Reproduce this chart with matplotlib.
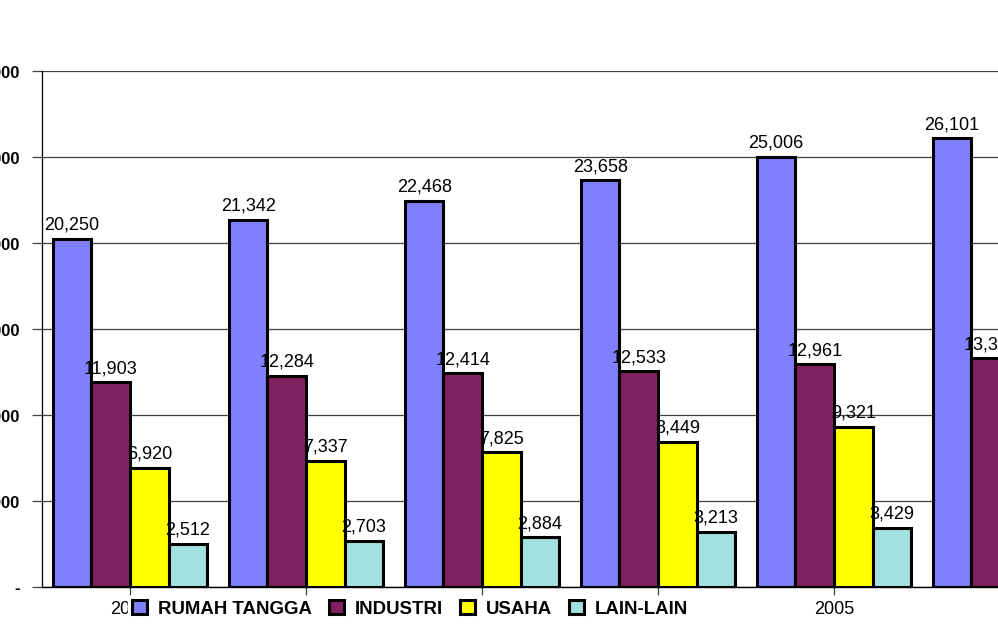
import numpy as np
import matplotlib
matplotlib.use('Agg')
import matplotlib.pyplot as plt
from matplotlib.ticker import FuncFormatter

plt.rcParams['font.family'] = ['Liberation Sans', 'DejaVu Sans']

# data (last group partly outside the visible chart)
years = ['2001', '2002', '2003', '2004', '2005', '2006']
rumah_tangga = [20250, 21342, 22468, 23658, 25006, 26101]
industri = [11903, 12284, 12414, 12533, 12961, 13300]
usaha = [6920, 7337, 7825, 8449, 9321, np.nan]
lain_lain = [2512, 2703, 2884, 3213, 3429, np.nan]

series = [
    ('RUMAH TANGGA', rumah_tangga, '#8080FF'),
    ('INDUSTRI', industri, '#80205F'),
    ('USAHA', usaha, '#FFFF00'),
    ('LAIN-LAIN', lain_lain, '#A3E0E0'),
]

fig = plt.figure(figsize=(9.98, 6.26), dpi=100)
# axes runs past the right edge of the figure, like the cropped original
ax = fig.add_axes([42 / 998, 39 / 626, 1056 / 998, 516 / 626])

x = np.arange(len(years))
w = 0.219
handles = []
for i, (name, vals, col) in enumerate(series):
    pos = x + (i - 1.5) * w
    b = ax.bar(pos, vals, width=w, color=col, edgecolor='black', linewidth=2.2,
               label=name, zorder=3)
    handles.append(b)
    for px, v in zip(pos, vals):
        if np.isnan(v):
            continue
        ax.annotate(f'{v:,.0f}', (px, v), xytext=(0, 6.5), textcoords='offset points',
                    ha='center', va='baseline', fontsize=13, zorder=5)

ax.set_xlim(-0.5, len(years) - 0.5)
ax.set_ylim(0, 30000)
ax.set_yticks(np.arange(0, 30001, 5000))
ax.yaxis.set_major_formatter(FuncFormatter(lambda v, p: '-' if v == 0 else f'{v:,.0f}'))
ax.set_xticks(x)
ax.set_xticklabels(years, fontsize=13)
# the 2006 label is not shown in the cropped original
ax.get_xticklabels()[-1].set_visible(False)
for lab in ax.get_yticklabels():
    lab.set_fontweight('bold')
    lab.set_fontsize(12)

ax.grid(axis='y', color='#404040', linewidth=0.9, zorder=0)
ax.tick_params(axis='y', direction='out', length=7.2, width=0.9, color='#404040', pad=9)
ax.tick_params(axis='x', direction='out', length=5.8, width=0.9, color='#404040', pad=4)
for s in ['top', 'right']:
    ax.spines[s].set_visible(False)
ax.spines['left'].set_linewidth(0.9)
ax.spines['bottom'].set_linewidth(1.0)

leg = ax.legend(handles=handles, loc='center', bbox_to_anchor=(410 / 998, 17 / 626),
                bbox_transform=fig.transFigure, ncol=4, frameon=True,
                facecolor='white', edgecolor='white', framealpha=1.0,
                prop={'weight': 'bold', 'size': 13.4}, handlelength=0.8,
                handleheight=0.8, handletextpad=0.6, columnspacing=0.9,
                borderpad=0.2, borderaxespad=0)
leg.set_zorder(10)
leg.get_frame().set_boxstyle('square', pad=0)

fig.savefig('out.png', dpi=100)
